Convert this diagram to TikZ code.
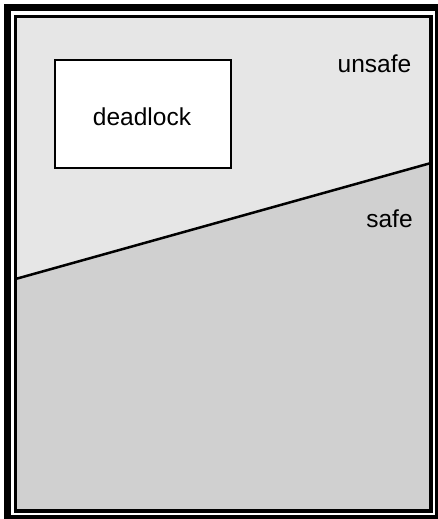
\documentclass[tikz,border=0pt]{standalone}
\usepackage{fontspec}
\setmainfont{Liberation Sans}
\usepackage{tikz}
\definecolor{unsafegray}{RGB}{230,230,230}
\definecolor{safegray}{RGB}{208,208,208}
\tikzset{every picture/.style={line width=0.5pt}}
\tikzset{
  statelabel/.style={font=\fontsize{24.5}{26}\selectfont,inner sep=0pt},
  deadbox/.style={draw,fill=white,line width=2pt,minimum width=176pt,minimum height=108pt,inner sep=0pt}
}

\begin{document}
\begin{tikzpicture}[x=1pt,y=-1pt]
\useasboundingbox (0,0) rectangle (437,519);
% frame corners and the safe/unsafe border
\coordinate (tl) at (15.5,16.5);
\coordinate (tr) at (431,16.5);
\coordinate (br) at (431,511);
\coordinate (bl) at (15.5,511);
\coordinate (bordl) at (15.5,279);
\coordinate (bordr) at (431,163);
\fill[unsafegray] (tl) -- (tr) -- (bordr) -- (bordl) -- cycle;
\fill[safegray] (bordl) -- (bordr) -- (br) -- (bl) -- cycle;
\draw[line width=2.5pt] (bordl) -- (bordr);
\draw[line width=3.5pt] (tl) rectangle (br);
\draw[line width=7pt] (7.5,8) rectangle (438.5,518.5);
% regions
\node[deadbox] (deadlock) at (143,114) {};
\node[statelabel,anchor=base] (deadtext) at (142,125) {deadlock};
\node[statelabel,anchor=base] (unsafe) at (374.5,73) {unsafe};
\node[statelabel,anchor=base] (safe) at (389.5,227) {safe};
\end{tikzpicture}
\end{document}
